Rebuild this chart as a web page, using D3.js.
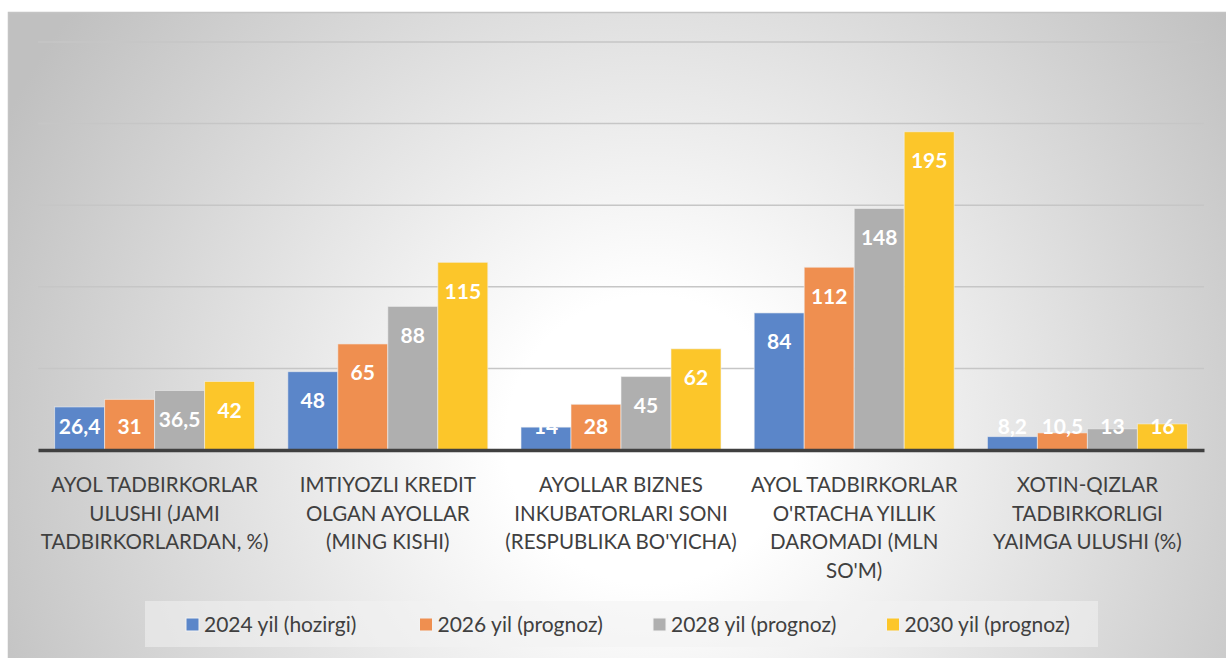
<!DOCTYPE html>
<html><head><meta charset="utf-8">
<script src="https://cdn.jsdelivr.net/npm/d3@7"></script>
<style>html,body{margin:0;padding:0;background:#fff;}svg{display:block;}</style>
</head><body>
<svg id="c" width="1226" height="658"></svg>
<script>
const categories = [
  ["AYOL TADBIRKORLAR","ULUSHI (JAMI","TADBIRKORLARDAN, %)"],
  ["IMTIYOZLI KREDIT","OLGAN AYOLLAR","(MING KISHI)"],
  ["AYOLLAR BIZNES","INKUBATORLARI SONI","(RESPUBLIKA BO'YICHA)"],
  ["AYOL TADBIRKORLAR","O'RTACHA YILLIK","DAROMADI (MLN","SO'M)"],
  ["XOTIN-QIZLAR","TADBIRKORLIGI","YAIMGA ULUSHI (%)"]
];
const seriesNames = ["2024 yil (hozirgi)","2026 yil (prognoz)","2028 yil (prognoz)","2030 yil (prognoz)"];
const s2024 = [26.4, 48, 14, 84, 8.2];
const s2026 = [31, 65, 28, 112, 10.5];
const s2028 = [36.5, 88, 45, 148, 13];
const s2030 = [42, 115, 62, 195, 16];
const yTicks = [0, 50, 100, 150, 200, 250];
const colors = ["#5b86c9","#ef8f50","#afafaf","#fcc62a"];
const series = [s2024, s2026, s2028, s2030];

const svg = d3.select("#c");
const defs = svg.append("defs");
const rg = defs.append("radialGradient").attr("id","bg").attr("gradientUnits","userSpaceOnUse")
  .attr("cx",650).attr("cy",440).attr("r",720);
rg.append("stop").attr("offset",0).attr("stop-color","#ffffff");
rg.append("stop").attr("offset",0.2).attr("stop-color","#ffffff");
rg.append("stop").attr("offset",1).attr("stop-color","#c0c0c0");

svg.append("rect").attr("x",8.5).attr("y",12.5).attr("width",1240).attr("height",700)
  .attr("fill","url(#bg)").attr("stroke","#c4c4c4").attr("stroke-width",1.5);

const x0 = d3.scaleBand().domain(d3.range(categories.length)).range([38,1204]).paddingInner(0).paddingOuter(0);
const y = d3.scaleLinear().domain([0,250]).range([450,42]);
const groupW = 200;
const x1 = d3.scaleBand().domain(d3.range(series.length)).range([0,groupW]).padding(0);

// gridlines
svg.append("g").selectAll("line").data(yTicks.filter(t=>t>0)).join("line")
  .attr("x1",38).attr("x2",1204).attr("y1",d=>y(d)).attr("y2",d=>y(d))
  .attr("stroke","#c6c6c6").attr("stroke-width",1.5);

// bars
const data = [];
categories.forEach((c,i)=>series.forEach((s,j)=>data.push({i,j,v:s[i]})));
const gx = i => x0(i) + (x0.bandwidth()-groupW)/2;
svg.append("g").selectAll("rect").data(data).join("rect")
  .attr("x",d=>gx(d.i)+x1(d.j)).attr("width",x1.bandwidth())
  .attr("y",d=>y(d.v)).attr("height",d=>y(0)-y(d.v))
  .attr("fill",d=>colors[d.j]).attr("stroke","#f2f2f2").attr("stroke-opacity",0.6).attr("stroke-width",1);

// value labels
svg.append("g").selectAll("text").data(data).join("text")
  .attr("x",d=>gx(d.i)+x1(d.j)+x1.bandwidth()/2)
  .attr("y",d=>Math.min(y(d.v)+29, 427))
  .attr("dy","0.35em").attr("text-anchor","middle")
  .attr("font-family","Lato, 'Open Sans', sans-serif").attr("font-weight","bold").attr("font-size",21)
  .attr("fill","#ffffff")
  .text(d=>String(d.v).replace(".",","));

// baseline axis
const xAxis = d3.axisBottom(x0).tickSize(0).tickFormat("");
const ax = svg.append("g").attr("transform",`translate(0,${y(0)})`).call(xAxis);
ax.select(".domain").attr("stroke","#404040").attr("stroke-width",3.5);

// category labels
const cl = svg.append("g");
categories.forEach((lines,i)=>{
  const t = cl.append("text").attr("text-anchor","middle")
    .attr("font-family","Lato, 'Open Sans', sans-serif").attr("font-size",20.5).attr("fill","#404040");
  lines.forEach((ln,k)=>{
    t.append("tspan").attr("x",x0(i)+x0.bandwidth()/2).attr("y",485+k*28.6).attr("dy","0.35em").text(ln);
  });
});

// legend
svg.append("rect").attr("x",145).attr("y",601).attr("width",953).attr("height",46)
  .attr("fill","#f2f2f2").attr("fill-opacity",0.55);
const lg = svg.append("g").selectAll("g").data(seriesNames).join("g")
  .attr("transform",(d,i)=>`translate(${186+i*233.5},0)`);
lg.append("rect").attr("x",0).attr("y",618).attr("width",13).attr("height",13)
  .attr("fill",(d,i)=>colors[i]).attr("stroke","#f2f2f2").attr("stroke-width",1);
lg.append("text").attr("x",18).attr("y",625).attr("dy","0.35em")
  .attr("font-family","Lato, 'Open Sans', sans-serif").attr("font-size",21).attr("fill","#404040")
  .text(d=>d);
</script>
</body></html>
